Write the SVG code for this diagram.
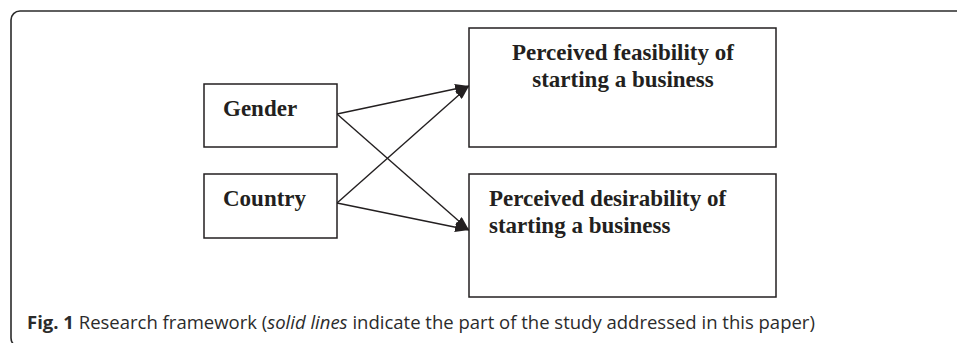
<svg xmlns="http://www.w3.org/2000/svg" width="957" height="343" viewBox="0 0 957 343">
<style>
.frame{fill:none;stroke:#2b2b2b;stroke-width:1.6}
.box{fill:#fff;stroke:#231f20;stroke-width:1.5}
.lbl{font-family:"Liberation Serif","Times New Roman",serif;font-weight:bold;font-size:23px;fill:#231f20}
.edge{stroke:#231f20;stroke-width:1.4;fill:none;marker-end:url(#ah)}
.cap{font-family:"Open Sans","Noto Sans",sans-serif;font-size:18.5px;fill:#2b2b2b}
</style>
<defs>
<marker id="ah" viewBox="0 0 14 10" refX="14" refY="5" markerWidth="14" markerHeight="10" markerUnits="userSpaceOnUse" orient="auto">
<path d="M0,0 L14,5 L0,10 Z" fill="#231f20"/>
</marker>
</defs>
<rect class="frame" x="11" y="11" width="1000" height="336" rx="9"/>
<g id="connectors">
<line class="edge" x1="337" y1="114" x2="469" y2="86"/>
<line class="edge" x1="337" y1="114" x2="469" y2="230"/>
<line class="edge" x1="337" y1="203" x2="469" y2="86"/>
<line class="edge" x1="337" y1="203" x2="469" y2="230"/>
</g>
<g id="gender">
<rect class="box" x="204" y="84" width="133" height="63"/>
<text class="lbl" x="223" y="116">Gender</text>
</g>
<g id="country">
<rect class="box" x="204" y="174" width="133" height="64"/>
<text class="lbl" x="223" y="206">Country</text>
</g>
<g id="feasibility">
<rect class="box" x="469" y="28" width="307" height="119"/>
<text class="lbl" x="623" y="60" text-anchor="middle">Perceived feasibility of</text>
<text class="lbl" x="623" y="87" text-anchor="middle">starting a business</text>
</g>
<g id="desirability">
<rect class="box" x="469" y="174" width="307" height="123"/>
<text class="lbl" x="489" y="206">Perceived desirability of</text>
<text class="lbl" x="489" y="233">starting a business</text>
</g>
<text class="cap" x="27" y="329"><tspan font-weight="bold">Fig. 1</tspan> Research framework (<tspan font-style="italic">solid lines</tspan> indicate the part of the study addressed in this paper)</text>
</svg>
